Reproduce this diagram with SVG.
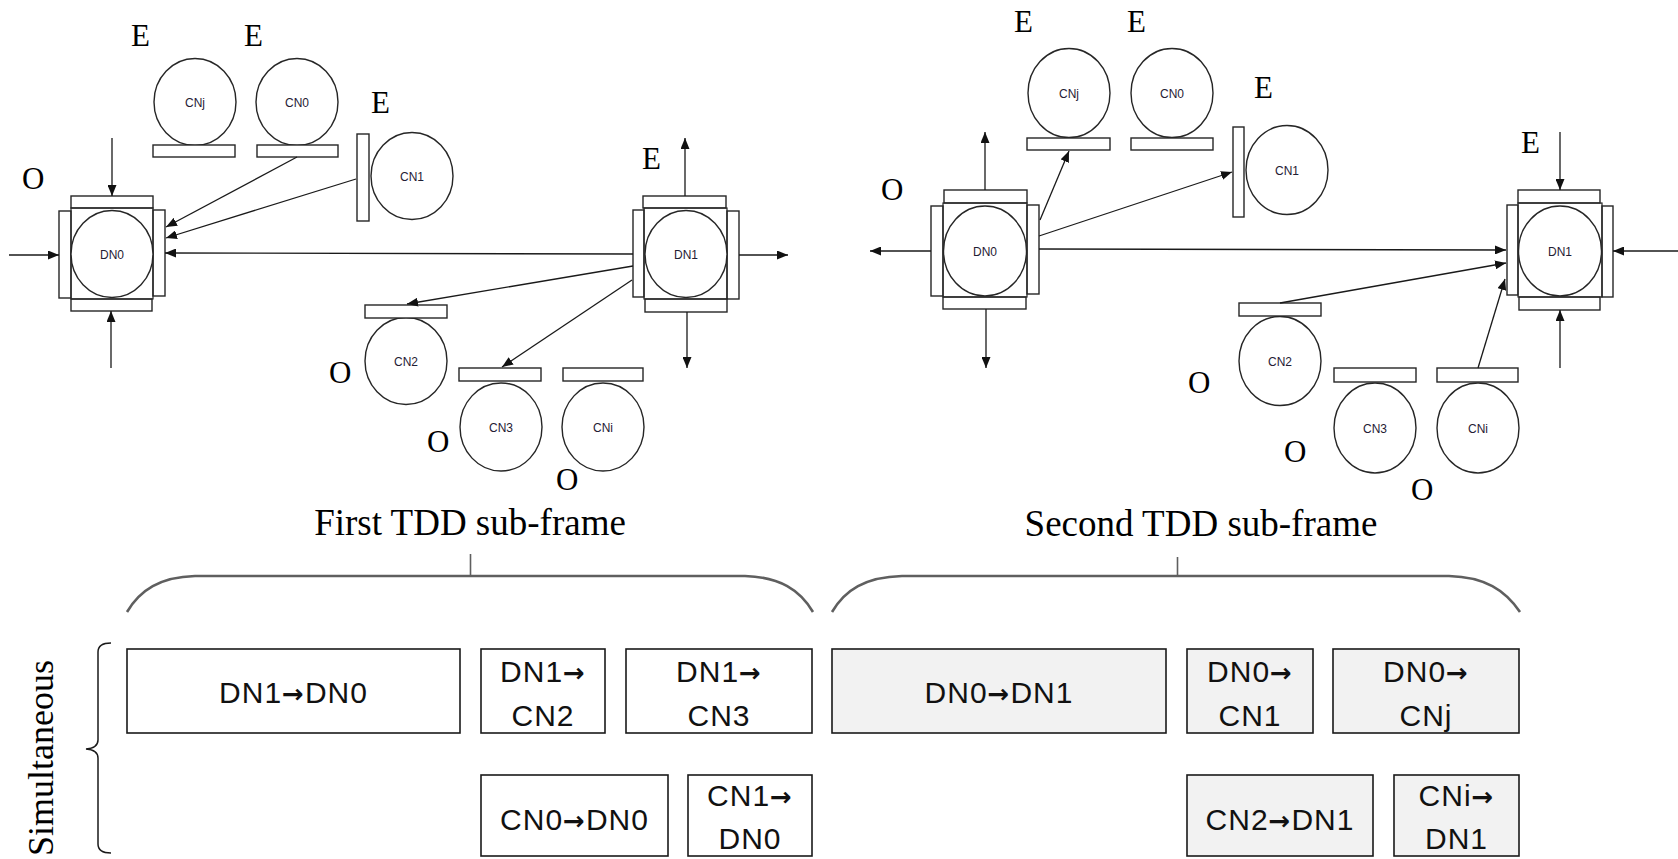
<svg xmlns="http://www.w3.org/2000/svg" width="1678" height="859" viewBox="0 0 1678 859">
<style>
.bar{fill:#fff;stroke:#262626;stroke-width:1.4}
.cir{fill:#fff;stroke:#262626;stroke-width:1.4}
.nl{font-family:"Liberation Sans",Arial,sans-serif;font-size:12px;fill:#1f2033;text-anchor:middle}
.lab{font-family:"Liberation Serif","Times New Roman",serif;font-size:31px;fill:#000}
.conn line{stroke:#1a1a1a;stroke-width:1.3;marker-end:url(#ah)}
.box{stroke:#1a1a1a;stroke-width:1.6}
.b1{fill:#fff}
.b2{fill:#f2f2f2}
.bt{font-family:"Liberation Sans",Arial,sans-serif;font-size:30px;letter-spacing:1px;fill:#111;text-anchor:middle}
.ar{font-family:"DejaVu Sans",sans-serif;font-weight:bold;font-size:26px}
.title{font-family:"Liberation Serif","Times New Roman",serif;font-size:37px;fill:#000;text-anchor:middle}
.brace{fill:none;stroke:#5f5f5f;stroke-width:2.6}
</style>
<defs>
<marker id="ah" markerUnits="userSpaceOnUse" markerWidth="11" markerHeight="9" refX="11" refY="4.5" orient="auto">
<path d="M0,0 L11,4.5 L0,9 z" fill="#111"/>
</marker>
</defs>
<rect width="1678" height="859" fill="#fff"/>

<!-- Frame 1 nodes -->
<g id="f1-CNj"><ellipse class="cir" cx="195" cy="102" rx="41" ry="43.5"/><rect class="bar" x="153" y="145" width="82" height="12"/><text class="nl" x="195" y="107">CNj</text></g>
<g id="f1-CN0"><ellipse class="cir" cx="297" cy="102" rx="41" ry="43.5"/><rect class="bar" x="257" y="145" width="81" height="12"/><text class="nl" x="297" y="107">CN0</text></g>
<g id="f1-CN1"><ellipse class="cir" cx="412" cy="176" rx="41" ry="43.5"/><rect class="bar" x="357" y="134" width="12" height="87"/><text class="nl" x="412" y="181">CN1</text></g>
<g id="f1-DN0"><rect class="bar" x="71" y="196" width="82" height="12"/><rect class="bar" x="59" y="211" width="12" height="87"/><rect class="bar" x="153" y="210" width="12" height="86"/><rect class="bar" x="71" y="299" width="81" height="12"/><rect x="71" y="208" width="82" height="91" fill="none" stroke="#262626" stroke-width="1.2"/><ellipse class="cir" cx="112" cy="254" rx="41" ry="43.5"/><text class="nl" x="112" y="259">DN0</text></g>
<g id="f1-DN1"><rect class="bar" x="643" y="196" width="83" height="12"/><rect class="bar" x="633" y="210" width="11" height="87"/><rect class="bar" x="727" y="211" width="12" height="88"/><rect class="bar" x="645" y="299" width="82" height="13"/><rect x="644" y="208" width="83" height="91" fill="none" stroke="#262626" stroke-width="1.2"/><ellipse class="cir" cx="686" cy="254" rx="41" ry="43.5"/><text class="nl" x="686" y="259">DN1</text></g>
<g id="f1-CN2"><ellipse class="cir" cx="406" cy="361" rx="41" ry="43.5"/><rect class="bar" x="365" y="305" width="82" height="13"/><text class="nl" x="406" y="366">CN2</text></g>
<g id="f1-CN3"><ellipse class="cir" cx="501" cy="427" rx="41" ry="44"/><rect class="bar" x="459" y="368" width="82" height="13"/><text class="nl" x="501" y="432">CN3</text></g>
<g id="f1-CNi"><ellipse class="cir" cx="603" cy="427" rx="41" ry="44"/><rect class="bar" x="563" y="368" width="80" height="13"/><text class="nl" x="603" y="432">CNi</text></g>

<!-- Frame 2 nodes -->
<g id="f2-CNj"><ellipse class="cir" cx="1069" cy="93" rx="41" ry="44.5"/><rect class="bar" x="1027" y="138" width="83" height="12"/><text class="nl" x="1069" y="98">CNj</text></g>
<g id="f2-CN0"><ellipse class="cir" cx="1172" cy="93" rx="41" ry="44.5"/><rect class="bar" x="1131" y="138" width="82" height="12"/><text class="nl" x="1172" y="98">CN0</text></g>
<g id="f2-CN1"><ellipse class="cir" cx="1287" cy="170" rx="41" ry="44.5"/><rect class="bar" x="1233" y="127" width="11" height="90"/><text class="nl" x="1287" y="175">CN1</text></g>
<g id="f2-DN0"><rect class="bar" x="944" y="190" width="83" height="13"/><rect class="bar" x="931" y="206" width="12" height="90"/><rect class="bar" x="1027" y="205" width="12" height="89"/><rect class="bar" x="943" y="297" width="83" height="12"/><rect x="943" y="203" width="84" height="94" fill="none" stroke="#262626" stroke-width="1.2"/><ellipse class="cir" cx="985" cy="251" rx="41.5" ry="45"/><text class="nl" x="985" y="256">DN0</text></g>
<g id="f2-DN1"><rect class="bar" x="1518" y="190" width="82" height="13"/><rect class="bar" x="1507" y="205" width="11" height="90"/><rect class="bar" x="1602" y="206" width="11" height="91"/><rect class="bar" x="1519" y="297" width="81" height="13"/><rect x="1518" y="203" width="84" height="94" fill="none" stroke="#262626" stroke-width="1.2"/><ellipse class="cir" cx="1560" cy="251" rx="41.5" ry="45"/><text class="nl" x="1560" y="256">DN1</text></g>
<g id="f2-CN2"><ellipse class="cir" cx="1280" cy="361" rx="41" ry="44.5"/><rect class="bar" x="1239" y="303" width="82" height="13"/><text class="nl" x="1280" y="366">CN2</text></g>
<g id="f2-CN3"><ellipse class="cir" cx="1375" cy="428" rx="41" ry="45"/><rect class="bar" x="1334" y="368" width="82" height="14"/><text class="nl" x="1375" y="433">CN3</text></g>
<g id="f2-CNi"><ellipse class="cir" cx="1478" cy="428" rx="41" ry="45"/><rect class="bar" x="1437" y="368" width="81" height="14"/><text class="nl" x="1478" y="433">CNi</text></g>

<!-- Connectors -->
<g id="connectors" class="conn">
<line x1="112" y1="138" x2="112" y2="196"/>
<line x1="111" y1="368" x2="111" y2="311"/>
<line x1="9" y1="255" x2="59" y2="255"/>
<line x1="633" y1="254" x2="165" y2="253"/>
<line x1="297" y1="157" x2="166" y2="227"/>
<line x1="356" y1="179" x2="166" y2="238"/>
<line x1="685" y1="196" x2="685" y2="138"/>
<line x1="739" y1="255" x2="788" y2="255"/>
<line x1="687" y1="312" x2="687" y2="368"/>
<line x1="633" y1="266" x2="407" y2="304"/>
<line x1="632" y1="280" x2="502" y2="367"/>

<line x1="985" y1="190" x2="985" y2="132"/>
<line x1="931" y1="251" x2="870" y2="251"/>
<line x1="986" y1="309" x2="986" y2="368"/>
<line x1="1040" y1="220" x2="1069" y2="151"/>
<line x1="1039" y1="236" x2="1232" y2="172"/>
<line x1="1039" y1="249" x2="1506" y2="250"/>
<line x1="1280" y1="303" x2="1506" y2="263"/>
<line x1="1478" y1="368" x2="1505" y2="279"/>
<line x1="1560" y1="132" x2="1560" y2="190"/>
<line x1="1560" y1="368" x2="1560" y2="310"/>
<line x1="1678" y1="251" x2="1613" y2="251"/>
</g>

<!-- E / O labels -->
<g id="labels">
<text class="lab" x="131" y="46">E</text>
<text class="lab" x="244" y="46">E</text>
<text class="lab" x="371" y="113">E</text>
<text class="lab" x="22" y="189">O</text>
<text class="lab" x="642" y="169">E</text>
<text class="lab" x="329" y="383">O</text>
<text class="lab" x="427" y="452">O</text>
<text class="lab" x="556" y="490">O</text>
<text class="lab" x="1014" y="32">E</text>
<text class="lab" x="1127" y="32">E</text>
<text class="lab" x="1254" y="98">E</text>
<text class="lab" x="881" y="200">O</text>
<text class="lab" x="1521" y="153">E</text>
<text class="lab" x="1188" y="393">O</text>
<text class="lab" x="1284" y="462">O</text>
<text class="lab" x="1411" y="500">O</text>
</g>

<!-- Titles and braces -->
<text class="title" x="470" y="535">First TDD sub-frame</text>
<text class="title" x="1201" y="536">Second TDD sub-frame</text>
<path class="brace" d="M127,612 C140,590 160,577 195,576 L745,576 C780,577 800,590 813,612"/>
<line x1="470.5" y1="554" x2="470.5" y2="576" stroke="#5f5f5f" stroke-width="1.6"/>
<path class="brace" d="M832,612 C845,590 865,577 902,576 L1449,576 C1485,577 1505,590 1520,612"/>
<line x1="1177.5" y1="557" x2="1177.5" y2="576" stroke="#5f5f5f" stroke-width="1.6"/>

<!-- Side brace -->
<path d="M111,643 Q98,643 98,652 L98,740 Q98,748 86,749 Q98,750 98,758 L98,844 Q98,853 111,853" fill="none" stroke="#1a1a1a" stroke-width="1.5"/>
<text font-family="Liberation Serif,'Times New Roman',serif" font-size="36" fill="#000" text-anchor="end" transform="translate(53,660) rotate(-90)">Simultaneous</text>

<!-- Frame 1 schedule boxes -->
<g id="s1-a"><rect class="box b1" x="127" y="649" width="333" height="84"/><text class="bt" x="293.5" y="703">DN1<tspan class="ar">→</tspan>DN0</text></g>
<g id="s1-b"><rect class="box b1" x="481" y="649" width="124" height="84"/><text class="bt" x="543" y="682">DN1<tspan class="ar">→</tspan></text><text class="bt" x="543" y="726">CN2</text></g>
<g id="s1-c"><rect class="box b1" x="626" y="649" width="186" height="84"/><text class="bt" x="719" y="682">DN1<tspan class="ar">→</tspan></text><text class="bt" x="719" y="726">CN3</text></g>
<g id="s1-d"><rect class="box b1" x="481" y="775" width="187" height="81"/><text class="bt" x="574.5" y="830">CN0<tspan class="ar">→</tspan>DN0</text></g>
<g id="s1-e"><rect class="box b1" x="688" y="775" width="124" height="81"/><text class="bt" x="750" y="806">CN1<tspan class="ar">→</tspan></text><text class="bt" x="750" y="849">DN0</text></g>

<!-- Frame 2 schedule boxes -->
<g id="s2-a"><rect class="box b2" x="832" y="649" width="334" height="84"/><text class="bt" x="999" y="703">DN0<tspan class="ar">→</tspan>DN1</text></g>
<g id="s2-b"><rect class="box b2" x="1187" y="649" width="126" height="84"/><text class="bt" x="1250" y="682">DN0<tspan class="ar">→</tspan></text><text class="bt" x="1250" y="726">CN1</text></g>
<g id="s2-c"><rect class="box b2" x="1333" y="649" width="186" height="84"/><text class="bt" x="1426" y="682">DN0<tspan class="ar">→</tspan></text><text class="bt" x="1426" y="726">CNj</text></g>
<g id="s2-d"><rect class="box b2" x="1187" y="775" width="186" height="81"/><text class="bt" x="1280" y="830">CN2<tspan class="ar">→</tspan>DN1</text></g>
<g id="s2-e"><rect class="box b2" x="1394" y="775" width="125" height="81"/><text class="bt" x="1456.5" y="806">CNi<tspan class="ar">→</tspan></text><text class="bt" x="1456.5" y="849">DN1</text></g>
</svg>
